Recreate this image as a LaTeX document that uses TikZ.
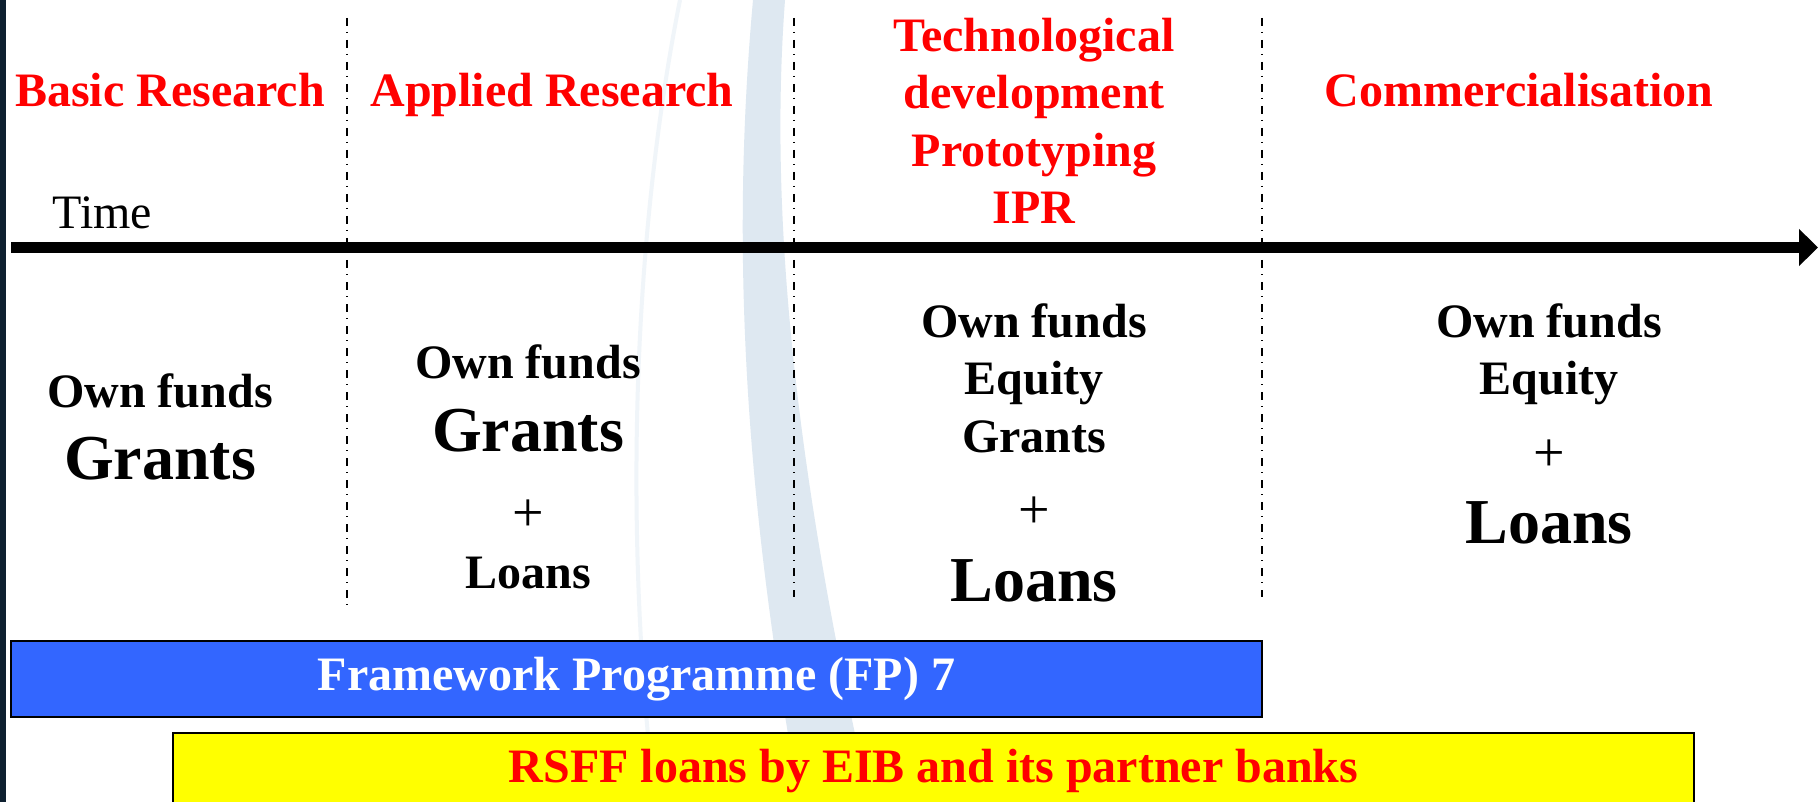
\documentclass[tikz,border=0pt]{standalone}
\usepackage{fontspec}
\setmainfont{Liberation Serif}
\usepackage{tikz}
\usetikzlibrary{arrows.meta}
\definecolor{fpblue}{RGB}{51,102,255}
\definecolor{swooshblue}{RGB}{222,232,241}
\definecolor{slideedge}{RGB}{14,32,48}

\begin{document}
\begin{tikzpicture}[x=0.5pt,y=-0.5pt,
  head/.style={text=red,font=\bfseries\fontsize{24}{28.8}\selectfont,align=center,inner sep=0pt},
  fund/.style={font=\bfseries\fontsize{24}{28.8}\selectfont,inner sep=0pt},
  bigfund/.style={font=\bfseries\fontsize{32}{38}\selectfont,inner sep=0pt},
  plus/.style={font=\fontsize{28}{32}\selectfont,inner sep=0pt},
  divider/.style={line width=0.7pt,dash pattern=on 4pt off 3pt on 0.6pt off 3.4pt},
  timeline/.style={line width=5.5pt,-{Triangle[length=9.5pt,width=18pt]}},
  fpbox/.style={draw,line width=1pt,fill=fpblue,text=white,font=\bfseries\fontsize{24}{28.8}\selectfont,minimum width=625.5pt,minimum height=38pt,inner sep=0pt},
  rsffbox/.style={draw,line width=1pt,fill={rgb,255:red,255;green,255;blue,0},text=red,font=\bfseries\fontsize{24}{28.8}\selectfont,minimum width=760.5pt,minimum height=38pt,inner sep=0pt}]
\useasboundingbox (0,0) rectangle (1818,802);
\fill[white] (0,0) rectangle (1818,802);
\fill[swooshblue] (753,0) .. controls (735,200) and (735,450) .. (800,802) -- (870,802) .. controls (790,450) and (770,200) .. (785,0) -- cycle;
\draw[swooshblue!45,line width=2pt] (680,0) .. controls (630,250) and (625,550) .. (655,802);
\fill[slideedge] (0,0) rectangle (6,802);

\coordinate (d1t) at (347,18);
\coordinate (d1b) at (347,607);
\coordinate (d2t) at (794,18);
\coordinate (d2b) at (794,597);
\coordinate (d3t) at (1262,18);
\coordinate (d3b) at (1262,597);
\draw[divider] (d1t) -- (d1b);
\draw[divider] (d2t) -- (d2b);
\draw[divider] (d3t) -- (d3b);

\coordinate (tstart) at (11,247.5);
\coordinate (tend) at (1818,247.5);
\draw[timeline] (tstart) -- (tend);
\node[anchor=base west,font=\fontsize{24}{28.8}\selectfont,inner sep=0pt] (time) at (52,228) {Time};

\node[head,anchor=base] (basic) at (170,107) {Basic Research};
\node[head,anchor=base] (applied) at (552,107) {Applied Research};
\node[head,anchor=base] (tech) at (1034,224) {Technological\\development\\Prototyping\\IPR};
\node[head,anchor=base] (comm) at (1519,107) {Commercialisation};

\node[fund,anchor=base] (own1) at (160,407) {Own funds};
\node[bigfund,anchor=base] (grants1) at (160,479) {Grants};

\node[fund,anchor=base] (own2) at (528,378) {Own funds};
\node[bigfund,anchor=base] (grants2) at (528,451) {Grants};
\node[plus] (plus2) at (528,516) {+};
\node[fund,anchor=base] (loans2) at (528,588) {Loans};

\node[fund,anchor=base] (own3) at (1034,337) {Own funds};
\node[fund,anchor=base] (equity3) at (1034,394) {Equity};
\node[fund,anchor=base] (grants3) at (1034,452) {Grants};
\node[plus] (plus3) at (1034,513) {+};
\node[bigfund,anchor=base] (loans3) at (1034,601) {Loans};

\node[fund,anchor=base] (own4) at (1549,337) {Own funds};
\node[fund,anchor=base] (equity4) at (1549,394) {Equity};
\node[plus] (plus4) at (1549,456) {+};
\node[bigfund,anchor=base] (loans4) at (1549,543) {Loans};

\node[fpbox] (fp) at (636.5,679) {Framework Programme (FP) 7};
\node[rsffbox] (rsff) at (933.5,771) {RSFF loans by EIB and its partner banks};
\end{tikzpicture}
\end{document}
